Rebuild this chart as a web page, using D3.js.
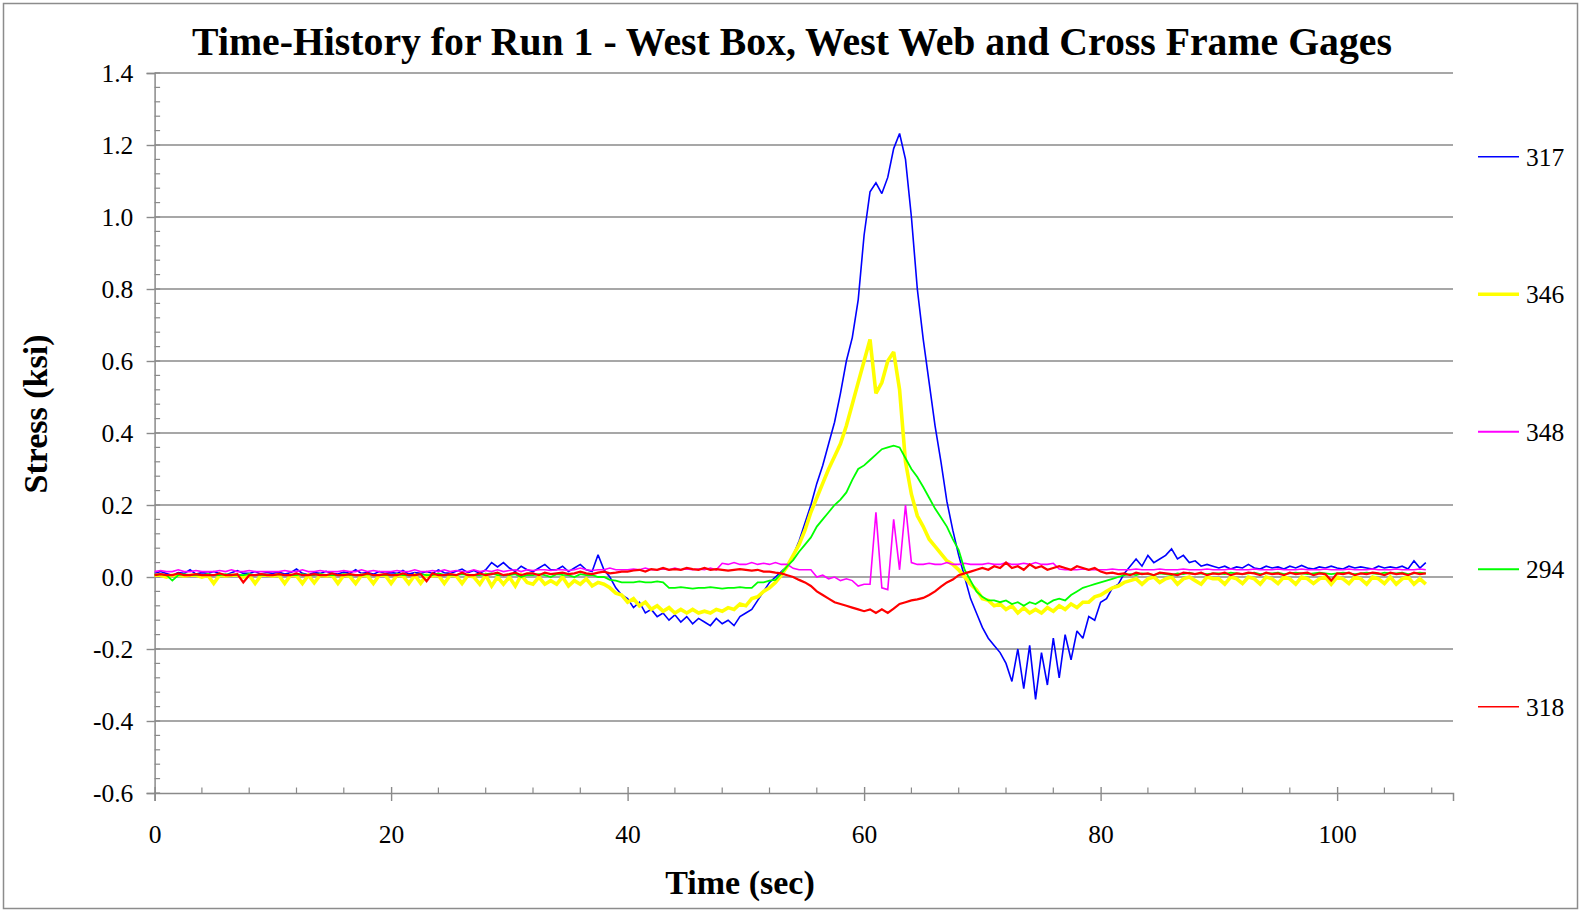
<!DOCTYPE html>
<html>
<head>
<meta charset="utf-8">
<script src="https://cdn.jsdelivr.net/npm/d3@7"></script>
<style>
  body { margin: 0; background: #fff; }
  svg { display: block; }
  text { font-family: "Liberation Serif", "Times New Roman", Times, serif; fill: #000; }
</style>
</head>
<body>
<svg id="chart" width="1585" height="911"></svg>
<script>
// Gage readings (ksi), one sample every half second from t = 0 s.
const sampleStep = 0.5;

const gageNames = ["317", "346", "348", "294", "318"];

const gage317 = [
  0.010, 0.015, 0.010, 0.005, 0.012, 0.010, 0.020, 0.008, 0.012, 0.010, 0.015, 0.010, 0.005, 0.012, 0.018, 0.010, 0.010, 0.015, 0.008, 0.012,
  0.010, 0.014, 0.008, 0.012, 0.022, 0.010, 0.006, 0.012, 0.010, 0.016, 0.010, 0.008, 0.014, 0.010, 0.020, 0.010, 0.012, 0.008, 0.015, 0.010,
  0.012, 0.010, 0.018, 0.008, 0.012, 0.010, 0.015, 0.010, 0.020, 0.012, 0.010, 0.016, 0.022, 0.012, 0.018, 0.010, 0.020, 0.040, 0.028, 0.040,
  0.025, 0.015, 0.030, 0.020, 0.015, 0.025, 0.035, 0.020, 0.020, 0.030, 0.015, 0.025, 0.035, 0.020, 0.015, 0.062, 0.020, 0.000, -0.030, -0.050,
  -0.060, -0.085, -0.070, -0.100, -0.090, -0.110, -0.100, -0.120, -0.105, -0.125, -0.110, -0.130, -0.115, -0.125, -0.135, -0.115, -0.130, -0.120, -0.135, -0.110,
  -0.100, -0.090, -0.065, -0.040, -0.015, 0.000, 0.015, 0.030, 0.060, 0.100, 0.150, 0.200, 0.260, 0.310, 0.370, 0.430, 0.510, 0.600, 0.665, 0.770,
  0.950, 1.070, 1.095, 1.065, 1.110, 1.190, 1.232, 1.160, 1.000, 0.800, 0.660, 0.540, 0.420, 0.320, 0.210, 0.130, 0.060, 0.000, -0.060, -0.100,
  -0.140, -0.170, -0.190, -0.210, -0.240, -0.290, -0.200, -0.310, -0.190, -0.340, -0.210, -0.300, -0.170, -0.280, -0.160, -0.230, -0.150, -0.170, -0.110, -0.120,
  -0.070, -0.060, -0.030, -0.020, 0.010, 0.030, 0.050, 0.030, 0.060, 0.040, 0.050, 0.060, 0.078, 0.050, 0.060, 0.040, 0.045, 0.030, 0.035, 0.030,
  0.025, 0.030, 0.022, 0.028, 0.025, 0.035, 0.025, 0.022, 0.030, 0.025, 0.028, 0.022, 0.030, 0.025, 0.032, 0.025, 0.022, 0.028, 0.025, 0.030,
  0.025, 0.022, 0.030, 0.025, 0.028, 0.025, 0.022, 0.030, 0.025, 0.028, 0.025, 0.030, 0.022, 0.045, 0.025, 0.040
];

const gage346 = [
  0.005, 0.005, 0.000, 0.005, 0.005, 0.003, 0.005, 0.005, 0.000, 0.005, -0.018, 0.005, 0.003, 0.005, 0.005, 0.000, 0.005, -0.018, 0.005, 0.005,
  0.003, 0.005, -0.018, 0.005, 0.003, -0.018, 0.005, -0.016, 0.005, 0.003, 0.005, -0.018, 0.005, 0.002, -0.018, 0.005, 0.003, -0.018, 0.005, 0.005,
  -0.018, 0.005, 0.003, -0.018, 0.005, -0.017, 0.005, 0.003, 0.005, -0.018, 0.005, 0.003, -0.018, 0.005, 0.000, -0.020, 0.005, -0.025, 0.000, -0.020,
  0.000, -0.025, 0.005, -0.015, -0.020, 0.000, -0.020, -0.010, -0.020, 0.000, -0.025, -0.010, -0.020, -0.005, -0.025, -0.015, -0.020, -0.030, -0.045, -0.050,
  -0.070, -0.060, -0.080, -0.070, -0.090, -0.080, -0.095, -0.085, -0.100, -0.090, -0.100, -0.090, -0.100, -0.095, -0.100, -0.090, -0.095, -0.085, -0.090, -0.075,
  -0.080, -0.060, -0.055, -0.040, -0.030, -0.015, 0.005, 0.030, 0.060, 0.090, 0.130, 0.180, 0.220, 0.260, 0.300, 0.335, 0.370, 0.420, 0.480, 0.540,
  0.600, 0.660, 0.510, 0.540, 0.600, 0.625, 0.520, 0.320, 0.230, 0.170, 0.140, 0.105, 0.085, 0.065, 0.045, 0.035, 0.020, 0.000, -0.020, -0.035,
  -0.060, -0.065, -0.080, -0.075, -0.090, -0.080, -0.100, -0.085, -0.100, -0.090, -0.100, -0.085, -0.095, -0.080, -0.090, -0.075, -0.085, -0.070, -0.070, -0.055,
  -0.050, -0.040, -0.030, -0.025, -0.015, -0.010, -0.005, -0.020, -0.005, 0.000, -0.015, -0.005, 0.000, -0.020, -0.005, 0.000, -0.010, -0.020, 0.000, -0.005,
  -0.005, -0.020, 0.000, -0.005, -0.018, 0.000, -0.005, -0.020, 0.000, -0.005, -0.018, 0.000, -0.005, -0.020, 0.000, -0.005, -0.018, -0.005, 0.000, -0.020,
  0.000, -0.005, -0.018, 0.000, -0.005, -0.020, 0.000, -0.005, -0.018, 0.000, -0.020, -0.005, 0.000, -0.020, -0.005, -0.020
];

const gage348 = [
  0.015, 0.018, 0.015, 0.015, 0.020, 0.015, 0.015, 0.018, 0.015, 0.015, 0.015, 0.018, 0.015, 0.020, 0.015, 0.015, 0.018, 0.015, 0.015, 0.015,
  0.015, 0.015, 0.018, 0.015, 0.015, 0.020, 0.015, 0.015, 0.018, 0.015, 0.015, 0.015, 0.018, 0.015, 0.015, 0.020, 0.015, 0.018, 0.015, 0.015,
  0.015, 0.018, 0.015, 0.015, 0.020, 0.015, 0.015, 0.018, 0.015, 0.020, 0.015, 0.018, 0.015, 0.015, 0.020, 0.015, 0.018, 0.015, 0.020, 0.015,
  0.018, 0.020, 0.015, 0.020, 0.018, 0.020, 0.020, 0.018, 0.020, 0.020, 0.018, 0.020, 0.025, 0.020, 0.018, 0.020, 0.020, 0.025, 0.020, 0.020,
  0.020, 0.022, 0.020, 0.025, 0.020, 0.020, 0.022, 0.020, 0.025, 0.020, 0.022, 0.020, 0.022, 0.020, 0.025, 0.020, 0.038, 0.035, 0.040, 0.035,
  0.035, 0.040, 0.035, 0.038, 0.035, 0.040, 0.035, 0.035, 0.024, 0.020, 0.020, 0.020, 0.000, 0.005, -0.005, 0.000, -0.010, -0.005, -0.010, -0.025,
  -0.020, -0.020, 0.180, -0.030, -0.035, 0.160, 0.020, 0.200, 0.040, 0.035, 0.035, 0.038, 0.035, 0.035, 0.040, 0.035, 0.035, 0.038, 0.035, 0.035,
  0.035, 0.038, 0.035, 0.035, 0.040, 0.035, 0.035, 0.038, 0.035, 0.040, 0.035, 0.035, 0.038, 0.022, 0.020, 0.020, 0.020, 0.022, 0.020, 0.020,
  0.020, 0.020, 0.022, 0.020, 0.020, 0.020, 0.022, 0.020, 0.020, 0.020, 0.022, 0.020, 0.020, 0.020, 0.022, 0.020, 0.020, 0.020, 0.022, 0.020,
  0.020, 0.020, 0.022, 0.020, 0.020, 0.020, 0.022, 0.020, 0.020, 0.020, 0.022, 0.020, 0.020, 0.020, 0.022, 0.020, 0.020, 0.020, 0.022, 0.020,
  0.020, 0.020, 0.022, 0.020, 0.020, 0.020, 0.022, 0.020, 0.020, 0.020, 0.022, 0.020, 0.020, 0.020, 0.022, 0.020
];

const gage294 = [
  0.005, 0.008, 0.005, -0.010, 0.005, 0.008, 0.005, 0.006, 0.005, 0.008, 0.005, 0.005, 0.008, 0.005, 0.006, 0.005, 0.008, 0.005, 0.005, 0.006,
  0.005, 0.008, 0.005, 0.006, 0.005, 0.008, 0.005, 0.005, 0.008, 0.006, 0.005, 0.005, 0.008, 0.005, 0.006, 0.005, 0.008, 0.005, 0.005, 0.006,
  0.005, 0.008, 0.005, 0.006, 0.005, 0.008, 0.005, 0.005, 0.010, 0.006, 0.005, 0.005, 0.008, 0.005, 0.006, 0.005, 0.008, 0.010, 0.005, 0.006,
  0.005, 0.008, 0.000, 0.006, 0.005, 0.008, 0.005, 0.000, 0.008, 0.006, 0.005, 0.000, 0.008, 0.005, 0.006, 0.000, 0.000, -0.008, -0.010, -0.015,
  -0.015, -0.015, -0.012, -0.015, -0.015, -0.012, -0.015, -0.030, -0.030, -0.028, -0.030, -0.032, -0.030, -0.030, -0.028, -0.030, -0.032, -0.030, -0.030, -0.028,
  -0.030, -0.030, -0.015, -0.015, -0.010, -0.008, 0.010, 0.030, 0.047, 0.070, 0.090, 0.110, 0.140, 0.160, 0.180, 0.200, 0.215, 0.235, 0.270, 0.300,
  0.310, 0.325, 0.340, 0.355, 0.360, 0.365, 0.360, 0.330, 0.300, 0.278, 0.250, 0.220, 0.190, 0.165, 0.140, 0.105, 0.075, 0.020, -0.010, -0.040,
  -0.055, -0.065, -0.065, -0.070, -0.065, -0.075, -0.070, -0.080, -0.070, -0.075, -0.065, -0.075, -0.065, -0.060, -0.065, -0.050, -0.040, -0.030, -0.025, -0.020,
  -0.015, -0.010, -0.005, 0.000, 0.005, 0.008, 0.005, 0.010, 0.008, 0.005, 0.010, 0.008, 0.005, 0.010, 0.008, 0.012, 0.008, 0.010, 0.008, 0.010,
  0.010, 0.008, 0.012, 0.010, 0.008, 0.010, 0.012, 0.008, 0.010, 0.010, 0.012, 0.008, 0.010, 0.012, 0.010, 0.008, 0.010, 0.012, 0.010, 0.008,
  0.010, 0.012, 0.010, 0.008, 0.010, 0.012, 0.010, 0.008, 0.012, 0.010, 0.010, 0.012, 0.008, 0.010, 0.012, 0.010
];

const gage318 = [
  0.005, 0.008, 0.005, 0.005, 0.010, 0.005, 0.005, 0.008, 0.005, 0.005, 0.005, 0.010, 0.005, 0.005, 0.008, -0.015, 0.005, 0.005, 0.008, 0.005,
  0.005, 0.008, 0.005, 0.005, 0.010, 0.005, 0.005, 0.008, 0.005, 0.005, 0.010, 0.005, 0.005, 0.008, 0.005, 0.005, 0.010, 0.005, 0.005, 0.008,
  0.005, 0.005, 0.010, 0.005, 0.005, 0.008, -0.012, 0.010, 0.005, 0.005, 0.008, 0.005, 0.012, 0.005, 0.005, 0.010, 0.005, 0.008, 0.012, 0.005,
  0.008, 0.012, 0.005, 0.010, 0.010, 0.005, 0.012, 0.008, 0.010, 0.012, 0.008, 0.010, 0.015, 0.010, 0.008, 0.012, 0.015, 0.010, 0.012, 0.015,
  0.015, 0.018, 0.020, 0.015, 0.022, 0.020, 0.025, 0.020, 0.022, 0.020, 0.025, 0.022, 0.020, 0.025, 0.020, 0.022, 0.020, 0.018, 0.020, 0.022,
  0.020, 0.018, 0.020, 0.015, 0.015, 0.012, 0.010, 0.005, 0.000, -0.008, -0.015, -0.025, -0.040, -0.050, -0.060, -0.070, -0.075, -0.080, -0.085, -0.090,
  -0.095, -0.090, -0.100, -0.090, -0.100, -0.088, -0.075, -0.070, -0.065, -0.062, -0.058, -0.050, -0.040, -0.027, -0.015, -0.007, 0.005, 0.010, 0.015, 0.020,
  0.025, 0.020, 0.030, 0.025, 0.040, 0.025, 0.030, 0.020, 0.035, 0.025, 0.030, 0.020, 0.025, 0.030, 0.025, 0.020, 0.030, 0.025, 0.020, 0.025,
  0.015, 0.010, 0.012, 0.008, 0.010, 0.005, 0.012, 0.008, 0.010, 0.005, 0.012, 0.010, 0.008, 0.005, 0.012, 0.010, 0.008, 0.012, 0.005, 0.010,
  0.008, 0.012, 0.005, 0.010, 0.008, 0.012, 0.010, 0.005, 0.012, 0.008, 0.010, 0.005, 0.012, 0.008, 0.010, 0.012, 0.005, 0.010, 0.008, -0.010,
  0.010, 0.008, 0.012, 0.005, 0.010, 0.008, 0.012, 0.010, 0.005, 0.012, 0.008, 0.010, 0.005, 0.012, 0.008, 0.010
];

const xTickValues = [0, 20, 40, 60, 80, 100];
const yTickValues = [-0.6, -0.4, -0.2, 0.0, 0.2, 0.4, 0.6, 0.8, 1.0, 1.2, 1.4];

const titleText = "Time-History for Run 1 - West Box, West Web and Cross Frame Gages";
const xTitle = "Time (sec)";
const yTitle = "Stress (ksi)";

// Series styling, in drawing order (last drawn sits on top)
const seriesList = [
  { name: gageNames[0], values: gage317, color: "#0000ff", width: 1.6, legendWidth: 1.5 },
  { name: gageNames[1], values: gage346, color: "#ffff00", width: 3.6, legendWidth: 3.5 },
  { name: gageNames[2], values: gage348, color: "#ff00ff", width: 1.6, legendWidth: 2 },
  { name: gageNames[3], values: gage294, color: "#00ff00", width: 1.8, legendWidth: 2 },
  { name: gageNames[4], values: gage318, color: "#ff0000", width: 2.2, legendWidth: 1.5 }
];

const svg = d3.select("#chart");
const plot = { left: 154.6, right: 1453, top: 73, bottom: 793 };
const gridColor = "#8a8a8a";
const labelSize = 25.5;

// Outer frame
svg.append("rect")
  .attr("x", 3.5).attr("y", 3.5)
  .attr("width", 1574).attr("height", 905)
  .attr("fill", "#fff").attr("stroke", "#8c8c8c").attr("stroke-width", 1.5);

const x = d3.scaleLinear().domain([0, 109.8]).range([plot.left, plot.right]);
const y = d3.scaleLinear().domain([-0.6, 1.4]).range([plot.bottom, plot.top]);

// Horizontal gridlines
svg.append("g")
  .selectAll("line")
  .data(yTickValues.filter(v => v > -0.6))
  .join("line")
  .attr("x1", plot.left).attr("x2", plot.right)
  .attr("y1", d => y(d)).attr("y2", d => y(d))
  .attr("stroke", gridColor).attr("stroke-width", 1.4);

// Y axis
const yAxis = svg.append("g")
  .attr("transform", `translate(${plot.left},0)`)
  .call(d3.axisLeft(y).tickValues(yTickValues).tickSize(8).tickPadding(13.3)
    .tickFormat(d => d.toFixed(1)));
yAxis.select(".domain").attr("stroke", gridColor).attr("stroke-width", 1.5);
yAxis.selectAll(".tick line").attr("stroke", gridColor).attr("stroke-width", 1.4);
yAxis.selectAll(".tick text")
  .attr("dy", "0.35em")
  .attr("font-size", labelSize).attr("font-family", "Liberation Serif, serif").attr("fill", "#000");

// Y minor ticks (inside the plot)
const yMinor = d3.range(0, 51).map(i => -0.6 + i * 0.04);
svg.append("g").selectAll("line")
  .data(yMinor)
  .join("line")
  .attr("x1", plot.left).attr("x2", plot.left + 5.5)
  .attr("y1", d => y(d)).attr("y2", d => y(d))
  .attr("stroke", gridColor).attr("stroke-width", 1.2);

// X axis
const xAxis = svg.append("g")
  .attr("transform", `translate(0,${plot.bottom})`)
  .call(d3.axisBottom(x).tickValues(xTickValues).tickSize(8).tickFormat(d3.format("d")));
xAxis.select(".domain").attr("stroke", gridColor).attr("stroke-width", 1.5);
xAxis.selectAll(".tick line").attr("y1", -6).attr("y2", 8)
  .attr("stroke", gridColor).attr("stroke-width", 1.4);
xAxis.selectAll(".tick text")
  .attr("y", 41).attr("dy", "0.35em")
  .attr("font-size", labelSize).attr("font-family", "Liberation Serif, serif").attr("fill", "#000");

// X minor ticks every 4 s (inside the plot)
const xMinor = d3.range(0, 28).map(i => i * 4).filter(v => v % 20 !== 0 && v <= 109.8);
svg.append("g").selectAll("line")
  .data(xMinor)
  .join("line")
  .attr("x1", d => x(d)).attr("x2", d => x(d))
  .attr("y1", plot.bottom).attr("y2", plot.bottom - 5.5)
  .attr("stroke", gridColor).attr("stroke-width", 1.2);

// Data lines
const line = d3.line()
  .x((d, i) => x(i * sampleStep))
  .y(d => y(d));

svg.append("g")
  .selectAll("path")
  .data(seriesList)
  .join("path")
  .attr("d", s => line(s.values))
  .attr("fill", "none")
  .attr("stroke", s => s.color)
  .attr("stroke-width", s => s.width)
  .attr("stroke-linejoin", "miter")
  .attr("stroke-miterlimit", 2);

// Legend
const legend = svg.append("g");
const legendTop = 156.7, legendGap = 137.5;
seriesList.forEach((s, k) => {
  const ly = legendTop + k * legendGap;
  legend.append("line")
    .attr("x1", 1478).attr("x2", 1519)
    .attr("y1", ly).attr("y2", ly)
    .attr("stroke", s.color).attr("stroke-width", s.legendWidth);
  legend.append("text")
    .attr("x", 1526).attr("y", ly).attr("dy", "0.35em")
    .attr("font-size", labelSize)
    .text(s.name);
});

// Titles
const title = svg.append("text")
  .attr("x", 792).attr("y", 55)
  .attr("text-anchor", "middle")
  .attr("font-weight", "bold")
  .attr("font-size", 38)
  .text(titleText);
const tLen = title.node().getComputedTextLength();
if (tLen > 0) title.attr("font-size", 38 * 1200 / tLen);

svg.append("text")
  .attr("x", 740).attr("y", 882).attr("dy", "0.35em")
  .attr("text-anchor", "middle")
  .attr("font-weight", "bold")
  .attr("font-size", 34)
  .text(xTitle);

svg.append("text")
  .attr("transform", "translate(35.5,414) rotate(-90)")
  .attr("dy", "0.35em")
  .attr("text-anchor", "middle")
  .attr("font-weight", "bold")
  .attr("font-size", 34)
  .text(yTitle);
</script>
</body>
</html>
